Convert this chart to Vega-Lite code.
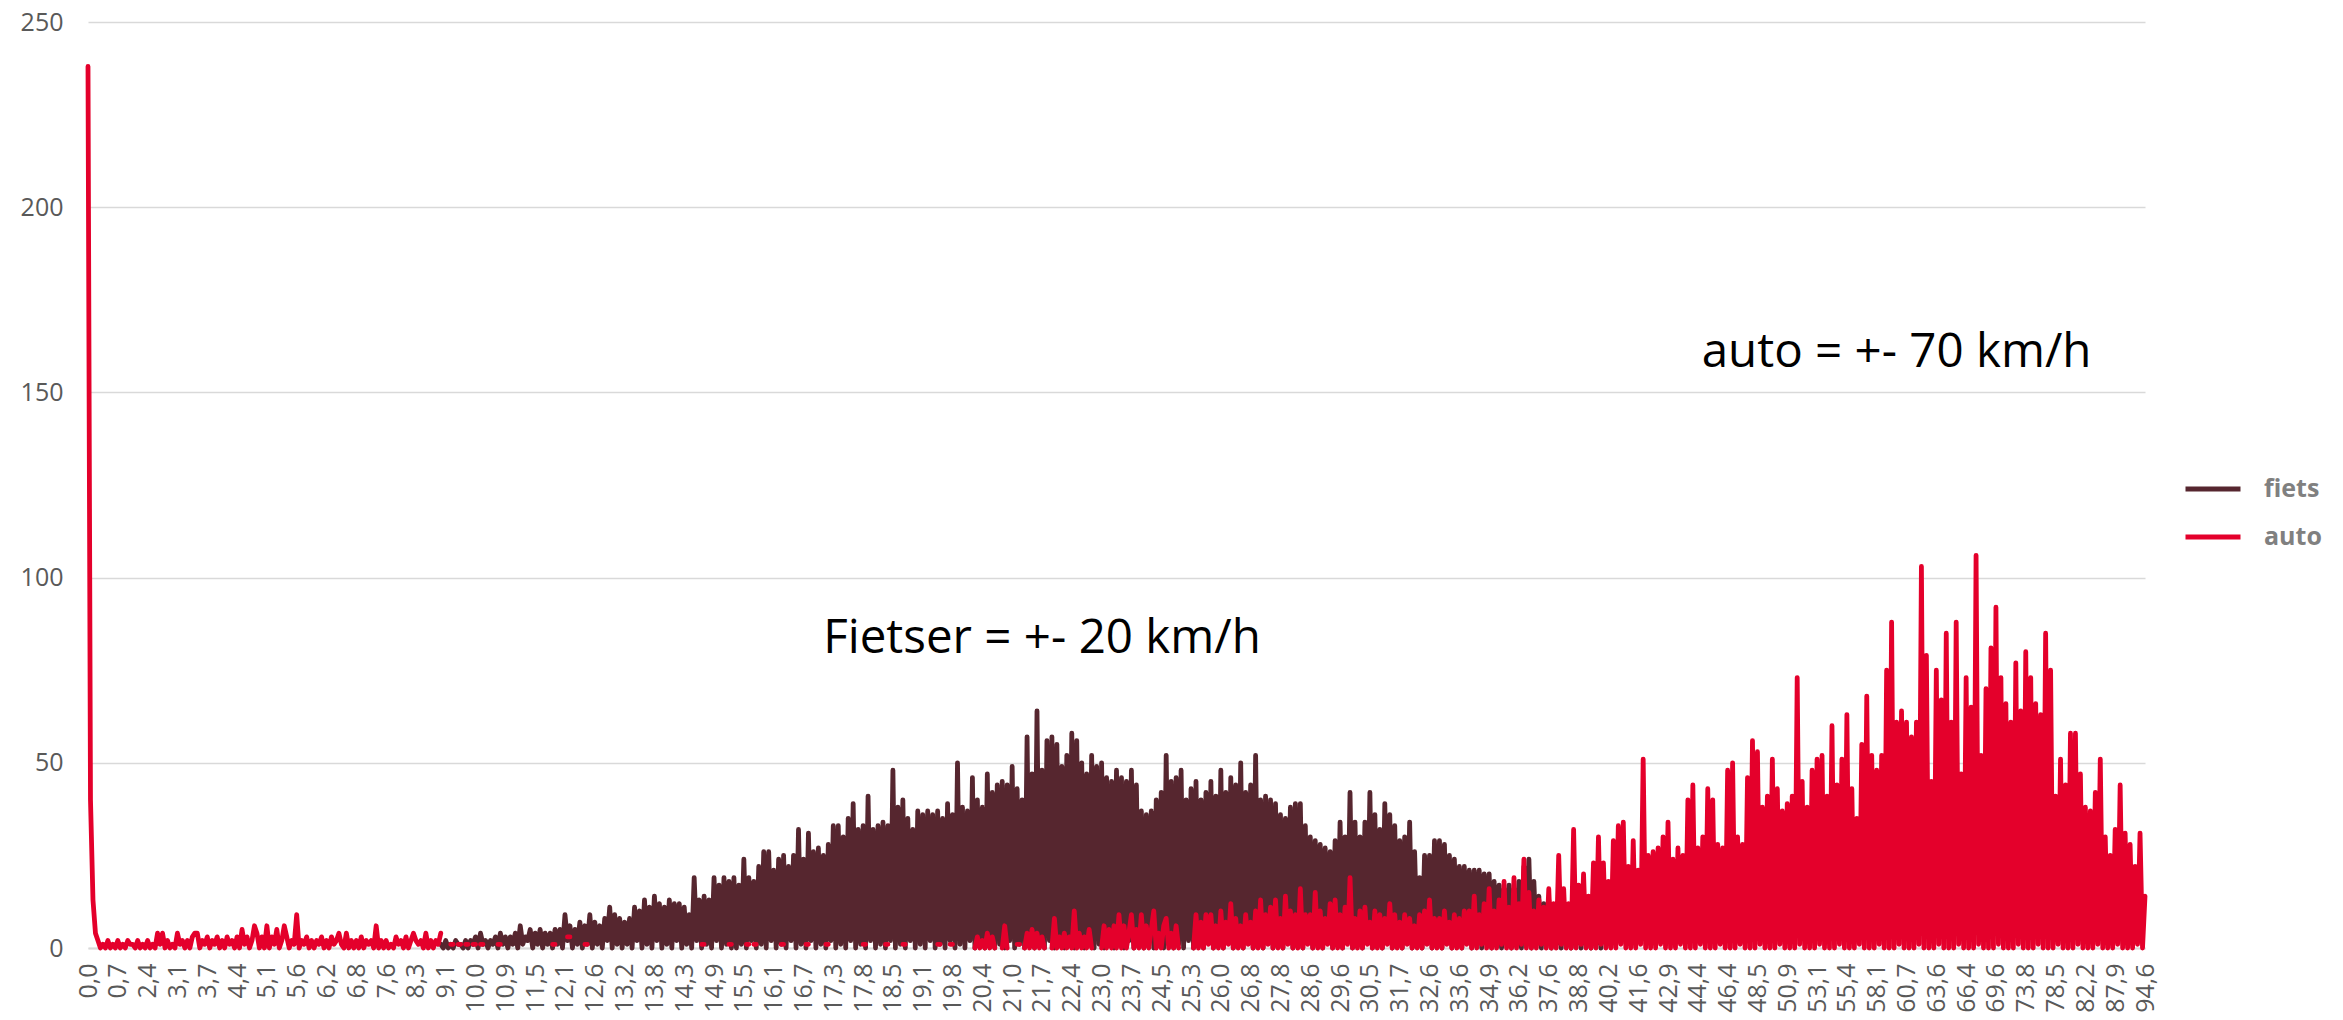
{
"$schema":"https://vega.github.io/schema/vega-lite/v6.json",
"width":2057,"height":926,
"autosize":{"type":"none"},
"padding":{"left":88,"top":22,"right":198,"bottom":72},
"background":"#ffffff",
"config":{"view":{"stroke":null},"font":"Open Sans"},
"encoding":{
"x":{"field":"n","type":"quantitative","scale":{"domain":[0,828],"nice":false,"zero":false},"title":null,
"axis":{"values":[0,12,24,36,48,60,72,84,96,108,120,132,144,156,168,180,192,204,216,228,240,252,264,276,288,300,312,324,336,348,360,372,384,396,408,420,432,444,456,468,480,492,504,516,528,540,552,564,576,588,600,612,624,636,648,660,672,684,696,708,720,732,744,756,768,780,792,804,816,828],
"labelExpr":"['0,0','0,7','2,4','3,1','3,7','4,4','5,1','5,6','6,2','6,8','7,6','8,3','9,1','10,0','10,9','11,5','12,1','12,6','13,2','13,8','14,3','14,9','15,5','16,1','16,7','17,3','17,8','18,5','19,1','19,8','20,4','21,0','21,7','22,4','23,0','23,7','24,5','25,3','26,0','26,8','27,8','28,6','29,6','30,5','31,7','32,6','33,6','34,9','36,2','37,6','38,8','40,2','41,6','42,9','44,4','46,4','48,5','50,9','53,1','55,4','58,1','60,7','63,6','66,4','69,6','73,8','78,5','82,2','87,9','94,6'][round(datum.value/12)]",
"labelAngle":-90,"labelOverlap":false,"labelBound":false,"labelFlush":false,"labelFontSize":25,"labelColor":"#595959","labelFont":"Open Sans","ticks":false,"tickSize":0,"labelPadding":15,"domain":true,"domainColor":"#d9d9d9","domainWidth":2,"grid":false}},
"y":{"field":"aantal","type":"quantitative","scale":{"domain":[0,250],"nice":false},"title":null,
"axis":{"values":[0,50,100,150,200,250],"grid":true,"gridColor":"#d9d9d9","gridWidth":1.3,"domain":false,"ticks":false,"tickSize":0,"labelPadding":25,"labelFontSize":25,"labelColor":"#595959","labelFont":"Open Sans"}}
},
"layer":[
{"data":{"values":[
{"n":0,"auto":238},{"n":1,"auto":40},{"n":2,"auto":13},{"n":3,"auto":4},{"n":4,"auto":2},{"n":5,"auto":0},{"n":6,"auto":1},{"n":7,"auto":0},{"n":8,"auto":2},{"n":9,"auto":0},{"n":10,"auto":1},{"n":11,"auto":0},
{"n":12,"auto":2},{"n":13,"auto":0},{"n":14,"auto":1},{"n":15,"auto":0},{"n":16,"auto":2},{"n":17,"auto":1},{"n":18,"auto":1},{"n":19,"auto":0},{"n":20,"auto":2},{"n":21,"auto":0},{"n":22,"auto":1},{"n":23,"auto":0},
{"n":24,"auto":2},{"n":25,"auto":0},{"n":26,"auto":1},{"n":27,"auto":0},{"n":28,"auto":4},{"n":29,"auto":1},{"n":30,"auto":4},{"n":31,"auto":0},{"n":32,"auto":2},{"n":33,"auto":0},{"n":34,"auto":1},{"n":35,"auto":0},
{"n":36,"auto":4},{"n":37,"auto":1},{"n":38,"auto":2},{"n":39,"auto":0},{"n":40,"auto":2},{"n":41,"auto":0},{"n":42,"auto":3},{"n":43,"auto":4},{"n":44,"auto":4},{"n":45,"auto":0},{"n":46,"auto":2},{"n":47,"auto":1},
{"n":48,"auto":3},{"n":49,"auto":0},{"n":50,"auto":2},{"n":51,"auto":1},{"n":52,"auto":3},{"n":53,"auto":0},{"n":54,"auto":2},{"n":55,"auto":0},{"n":56,"auto":3},{"n":57,"auto":1},{"n":58,"auto":2},{"n":59,"auto":0},
{"n":60,"auto":3},{"n":61,"auto":0},{"n":62,"auto":5},{"n":63,"auto":1},{"n":64,"auto":3},{"n":65,"auto":0},{"n":66,"auto":2},{"n":67,"auto":6},{"n":68,"auto":4},{"n":69,"auto":0},{"n":70,"auto":3},{"n":71,"auto":0},
{"n":72,"auto":6},{"n":73,"auto":0},{"n":74,"auto":3},{"n":75,"auto":1},{"n":76,"auto":5},{"n":77,"auto":0},{"n":78,"auto":2},{"n":79,"auto":6},{"n":80,"auto":3},{"n":81,"auto":0},{"n":82,"auto":2},{"n":83,"auto":1},
{"n":84,"auto":9},{"n":85,"auto":0},{"n":86,"auto":2},{"n":87,"auto":1},{"n":88,"auto":3},{"n":89,"auto":0},{"n":90,"auto":2},{"n":91,"auto":0},{"n":92,"auto":2},{"n":93,"auto":1},{"n":94,"auto":3},{"n":95,"auto":0},
{"n":96,"auto":2},{"n":97,"auto":0},{"n":98,"auto":3},{"n":99,"auto":1},{"n":100,"auto":2},{"n":101,"auto":4},{"n":102,"auto":1},{"n":103,"auto":0},{"n":104,"auto":4},{"n":105,"auto":0},{"n":106,"auto":2},{"n":107,"auto":0},
{"n":108,"auto":2},{"n":109,"auto":0},{"n":110,"auto":3},{"n":111,"auto":0},{"n":112,"auto":2},{"n":113,"auto":1},{"n":114,"auto":2},{"n":115,"auto":0},{"n":116,"auto":6},{"n":117,"auto":0},{"n":118,"auto":2},{"n":119,"auto":0},
{"n":120,"auto":2},{"n":121,"auto":0},{"n":122,"auto":1},{"n":123,"auto":0},{"n":124,"auto":3},{"n":125,"auto":1},{"n":126,"auto":2},{"n":127,"auto":0},{"n":128,"auto":3},{"n":129,"auto":0},{"n":130,"auto":2},{"n":131,"auto":4},
{"n":132,"auto":2},{"n":133,"auto":1},{"n":134,"auto":2},{"n":135,"auto":0},{"n":136,"auto":4},{"n":137,"auto":0},{"n":138,"auto":2},{"n":139,"auto":0},{"n":140,"auto":2},{"n":141,"auto":1},
{"n":142,"fiets":1,"auto":4},{"n":143,"fiets":0},{"n":144,"fiets":2},{"n":145,"fiets":0},{"n":146,"fiets":1,"auto":1},{"n":147,"fiets":0,"auto":1},{"n":148,"fiets":2},{"n":149,"fiets":1,"auto":1},{"n":150,"fiets":1,"auto":1},{"n":151,"fiets":0},{"n":152,"fiets":2,"auto":1},{"n":153,"fiets":0,"auto":1},{"n":154,"fiets":2},{"n":155,"fiets":1,"auto":1},
{"n":156,"fiets":3,"auto":1},{"n":157,"fiets":0},{"n":158,"fiets":4,"auto":1},{"n":159,"fiets":1,"auto":1},{"n":160,"fiets":2},{"n":161,"fiets":0},{"n":162,"fiets":2},{"n":163,"fiets":1},{"n":164,"fiets":3},{"n":165,"fiets":0,"auto":1},{"n":166,"fiets":4,"auto":1},{"n":167,"fiets":1},
{"n":168,"fiets":3},{"n":169,"fiets":0},{"n":170,"fiets":3},{"n":171,"fiets":1},{"n":172,"fiets":4},{"n":173,"fiets":0},{"n":174,"fiets":6},{"n":175,"fiets":1},{"n":176,"fiets":3},{"n":177,"fiets":2},{"n":178,"fiets":5},{"n":179,"fiets":0},
{"n":180,"fiets":4},{"n":181,"fiets":1},{"n":182,"fiets":5},{"n":183,"fiets":0},{"n":184,"fiets":4},{"n":185,"fiets":1},{"n":186,"fiets":4},{"n":187,"fiets":0,"auto":1},{"n":188,"fiets":5,"auto":1},{"n":189,"fiets":1},{"n":190,"fiets":5},{"n":191,"fiets":0},
{"n":192,"fiets":9},{"n":193,"fiets":2,"auto":3},{"n":194,"fiets":6,"auto":3},{"n":195,"fiets":0},{"n":196,"fiets":5},{"n":197,"fiets":1},{"n":198,"fiets":7},{"n":199,"fiets":0},{"n":200,"fiets":6,"auto":1},{"n":201,"fiets":1,"auto":1},{"n":202,"fiets":9},{"n":203,"fiets":0},
{"n":204,"fiets":7},{"n":205,"fiets":1},{"n":206,"fiets":6},{"n":207,"fiets":0},{"n":208,"fiets":8},{"n":209,"fiets":2},{"n":210,"fiets":11},{"n":211,"fiets":0},{"n":212,"fiets":9},{"n":213,"fiets":1},{"n":214,"fiets":8},{"n":215,"fiets":0},
{"n":216,"fiets":7},{"n":217,"fiets":1},{"n":218,"fiets":8},{"n":219,"fiets":0},{"n":220,"fiets":11},{"n":221,"fiets":2},{"n":222,"fiets":10},{"n":223,"fiets":0},{"n":224,"fiets":13},{"n":225,"fiets":1},{"n":226,"fiets":11},{"n":227,"fiets":0},
{"n":228,"fiets":14},{"n":229,"fiets":2},{"n":230,"fiets":12},{"n":231,"fiets":0},{"n":232,"fiets":11},{"n":233,"fiets":1},{"n":234,"fiets":13},{"n":235,"fiets":0},{"n":236,"fiets":12},{"n":237,"fiets":2},{"n":238,"fiets":12},{"n":239,"fiets":0},
{"n":240,"fiets":11},{"n":241,"fiets":1},{"n":242,"fiets":9},{"n":243,"fiets":0},{"n":244,"fiets":19},{"n":245,"fiets":2},{"n":246,"fiets":13},{"n":247,"fiets":0,"auto":1},{"n":248,"fiets":14,"auto":1},{"n":249,"fiets":1},{"n":250,"fiets":13},{"n":251,"fiets":0},
{"n":252,"fiets":19},{"n":253,"fiets":2},{"n":254,"fiets":17},{"n":255,"fiets":0},{"n":256,"fiets":19},{"n":257,"fiets":1},{"n":258,"fiets":18,"auto":1},{"n":259,"fiets":0,"auto":1},{"n":260,"fiets":19},{"n":261,"fiets":0},{"n":262,"fiets":17},{"n":263,"fiets":1},
{"n":264,"fiets":24},{"n":265,"fiets":0,"auto":1},{"n":266,"fiets":19,"auto":1},{"n":267,"fiets":2},{"n":268,"fiets":18,"auto":1},{"n":269,"fiets":0,"auto":1},{"n":270,"fiets":22},{"n":271,"fiets":1},{"n":272,"fiets":26},{"n":273,"fiets":0},{"n":274,"fiets":26},{"n":275,"fiets":2},
{"n":276,"fiets":21},{"n":277,"fiets":0},{"n":278,"fiets":24},{"n":279,"fiets":1,"auto":1},{"n":280,"fiets":25,"auto":1},{"n":281,"fiets":0},{"n":282,"fiets":22},{"n":283,"fiets":2},{"n":284,"fiets":25},{"n":285,"fiets":0},{"n":286,"fiets":32},{"n":287,"fiets":1},
{"n":288,"fiets":24},{"n":289,"fiets":0,"auto":1},{"n":290,"fiets":31,"auto":1},{"n":291,"fiets":2},{"n":292,"fiets":26},{"n":293,"fiets":0},{"n":294,"fiets":27},{"n":295,"fiets":1},{"n":296,"fiets":25},{"n":297,"fiets":0,"auto":1},{"n":298,"fiets":28,"auto":1},{"n":299,"fiets":2},
{"n":300,"fiets":33},{"n":301,"fiets":0},{"n":302,"fiets":33},{"n":303,"fiets":1},{"n":304,"fiets":30},{"n":305,"fiets":0},{"n":306,"fiets":35},{"n":307,"fiets":2},{"n":308,"fiets":39},{"n":309,"fiets":0},{"n":310,"fiets":32},{"n":311,"fiets":1},
{"n":312,"fiets":33,"auto":1},{"n":313,"fiets":0,"auto":1},{"n":314,"fiets":41},{"n":315,"fiets":2},{"n":316,"fiets":32},{"n":317,"fiets":0},{"n":318,"fiets":33},{"n":319,"fiets":1},{"n":320,"fiets":34},{"n":321,"fiets":0,"auto":1},{"n":322,"fiets":33,"auto":1},{"n":323,"fiets":2},
{"n":324,"fiets":48},{"n":325,"fiets":0},{"n":326,"fiets":38},{"n":327,"fiets":1},{"n":328,"fiets":40,"auto":1},{"n":329,"fiets":0,"auto":1},{"n":330,"fiets":35},{"n":331,"fiets":2},{"n":332,"fiets":32},{"n":333,"fiets":0},{"n":334,"fiets":37},{"n":335,"fiets":1},
{"n":336,"fiets":36},{"n":337,"fiets":0},{"n":338,"fiets":37},{"n":339,"fiets":2},{"n":340,"fiets":36},{"n":341,"fiets":0},{"n":342,"fiets":37,"auto":1},{"n":343,"fiets":1,"auto":1},{"n":344,"fiets":35},{"n":345,"fiets":0},{"n":346,"fiets":39},{"n":347,"fiets":2,"auto":1},
{"n":348,"fiets":36,"auto":1},{"n":349,"fiets":0},{"n":350,"fiets":50},{"n":351,"fiets":1},{"n":352,"fiets":38},{"n":353,"fiets":0},{"n":354,"fiets":37},{"n":355,"fiets":2},{"n":356,"fiets":46},{"n":357,"fiets":0,"auto":0},{"n":358,"fiets":40,"auto":3},{"n":359,"fiets":1,"auto":0},
{"n":360,"fiets":38,"auto":2},{"n":361,"fiets":0,"auto":0},{"n":362,"fiets":47,"auto":4},{"n":363,"fiets":2,"auto":0},{"n":364,"fiets":42,"auto":3},{"n":365,"fiets":0,"auto":0},{"n":366,"fiets":44},{"n":367,"fiets":1},{"n":368,"fiets":45,"auto":0},{"n":369,"fiets":0,"auto":6},{"n":370,"fiets":44,"auto":0},{"n":371,"fiets":2},
{"n":372,"fiets":49},{"n":373,"fiets":0},{"n":374,"fiets":43,"auto":1},{"n":375,"fiets":1,"auto":1},{"n":376,"fiets":40},{"n":377,"fiets":0,"auto":0},{"n":378,"fiets":57,"auto":4},{"n":379,"fiets":2,"auto":0},{"n":380,"fiets":47,"auto":5},{"n":381,"fiets":0,"auto":0},{"n":382,"fiets":64,"auto":4},{"n":383,"fiets":1,"auto":0},
{"n":384,"fiets":48,"auto":3},{"n":385,"fiets":0,"auto":0},{"n":386,"fiets":56},{"n":387,"fiets":2},{"n":388,"fiets":57,"auto":0},{"n":389,"fiets":0,"auto":8},{"n":390,"fiets":55,"auto":0},{"n":391,"fiets":1,"auto":3},{"n":392,"fiets":49,"auto":0},{"n":393,"fiets":0,"auto":4},{"n":394,"fiets":52,"auto":0},{"n":395,"fiets":2,"auto":3},
{"n":396,"fiets":58,"auto":0},{"n":397,"fiets":0,"auto":10},{"n":398,"fiets":56,"auto":0},{"n":399,"fiets":1,"auto":4},{"n":400,"fiets":50,"auto":0},{"n":401,"fiets":0,"auto":3},{"n":402,"fiets":47,"auto":0},{"n":403,"fiets":2,"auto":5},{"n":404,"fiets":52,"auto":0},{"n":405,"fiets":0},{"n":406,"fiets":49},{"n":407,"fiets":1},
{"n":408,"fiets":50,"auto":0},{"n":409,"fiets":0,"auto":6},{"n":410,"fiets":46,"auto":0},{"n":411,"fiets":2,"auto":5},{"n":412,"fiets":45,"auto":0},{"n":413,"fiets":0,"auto":6},{"n":414,"fiets":48,"auto":0},{"n":415,"fiets":1,"auto":9},{"n":416,"fiets":46,"auto":0},{"n":417,"fiets":0,"auto":6},{"n":418,"fiets":45,"auto":0},{"n":419,"fiets":2,"auto":4},
{"n":420,"fiets":48,"auto":9},{"n":421,"fiets":0,"auto":0},{"n":422,"fiets":44,"auto":5},{"n":423,"fiets":1,"auto":0},{"n":424,"fiets":37,"auto":9},{"n":425,"fiets":0,"auto":0},{"n":426,"fiets":36,"auto":6},{"n":427,"fiets":2,"auto":0},{"n":428,"fiets":37,"auto":5},{"n":429,"fiets":0,"auto":10},{"n":430,"fiets":40,"auto":0},{"n":431,"fiets":1,"auto":4},
{"n":432,"fiets":42,"auto":0},{"n":433,"fiets":0,"auto":6},{"n":434,"fiets":52,"auto":8},{"n":435,"fiets":2,"auto":0},{"n":436,"fiets":45,"auto":4},{"n":437,"fiets":0,"auto":0},{"n":438,"fiets":46,"auto":6},{"n":439,"fiets":1,"auto":0},{"n":440,"fiets":48},{"n":441,"fiets":0},{"n":442,"fiets":40},{"n":443,"fiets":2},
{"n":444,"fiets":43},{"n":445,"fiets":0,"auto":0},{"n":446,"fiets":45,"auto":9},{"n":447,"fiets":1,"auto":0},{"n":448,"fiets":40,"auto":7},{"n":449,"fiets":0,"auto":0},{"n":450,"fiets":42,"auto":9},{"n":451,"fiets":2,"auto":1},{"n":452,"fiets":45,"auto":9},{"n":453,"fiets":0,"auto":0},{"n":454,"fiets":41,"auto":6},{"n":455,"fiets":1,"auto":0},
{"n":456,"fiets":48,"auto":10},{"n":457,"fiets":0,"auto":0},{"n":458,"fiets":42,"auto":7},{"n":459,"fiets":2,"auto":1},{"n":460,"fiets":46,"auto":12},{"n":461,"fiets":0,"auto":0},{"n":462,"fiets":44,"auto":8},{"n":463,"fiets":1,"auto":0},{"n":464,"fiets":50,"auto":6},{"n":465,"fiets":0,"auto":0},{"n":466,"fiets":42,"auto":9},{"n":467,"fiets":2,"auto":1},
{"n":468,"fiets":44,"auto":7},{"n":469,"fiets":0,"auto":0},{"n":470,"fiets":52,"auto":10},{"n":471,"fiets":1,"auto":0},{"n":472,"fiets":40,"auto":13},{"n":473,"fiets":0,"auto":0},{"n":474,"fiets":41,"auto":9},{"n":475,"fiets":2,"auto":1},{"n":476,"fiets":40,"auto":11},{"n":477,"fiets":0,"auto":0},{"n":478,"fiets":39,"auto":13},{"n":479,"fiets":1,"auto":0},
{"n":480,"fiets":36,"auto":8},{"n":481,"fiets":0,"auto":0},{"n":482,"fiets":35,"auto":14},{"n":483,"fiets":2,"auto":1},{"n":484,"fiets":38,"auto":10},{"n":485,"fiets":0,"auto":0},{"n":486,"fiets":39,"auto":9},{"n":487,"fiets":1,"auto":0},{"n":488,"fiets":39,"auto":16},{"n":489,"fiets":0,"auto":0},{"n":490,"fiets":33,"auto":9},{"n":491,"fiets":2,"auto":1},
{"n":492,"fiets":30,"auto":9},{"n":493,"fiets":0,"auto":0},{"n":494,"fiets":29,"auto":15},{"n":495,"fiets":1,"auto":0},{"n":496,"fiets":28,"auto":10},{"n":497,"fiets":0,"auto":0},{"n":498,"fiets":27,"auto":8},{"n":499,"fiets":2,"auto":1},{"n":500,"fiets":26,"auto":12},{"n":501,"fiets":0,"auto":0},{"n":502,"fiets":29,"auto":13},{"n":503,"fiets":1,"auto":0},
{"n":504,"fiets":34,"auto":9},{"n":505,"fiets":0,"auto":0},{"n":506,"fiets":30,"auto":11},{"n":507,"fiets":2,"auto":1},{"n":508,"fiets":42,"auto":19},{"n":509,"fiets":0,"auto":0},{"n":510,"fiets":34,"auto":8},{"n":511,"fiets":1,"auto":0},{"n":512,"fiets":30,"auto":10},{"n":513,"fiets":0,"auto":0},{"n":514,"fiets":34,"auto":11},{"n":515,"fiets":2,"auto":1},
{"n":516,"fiets":42,"auto":7},{"n":517,"fiets":0,"auto":0},{"n":518,"fiets":36,"auto":10},{"n":519,"fiets":1,"auto":0},{"n":520,"fiets":32,"auto":9},{"n":521,"fiets":0,"auto":0},{"n":522,"fiets":39,"auto":8},{"n":523,"fiets":2,"auto":1},{"n":524,"fiets":36,"auto":12},{"n":525,"fiets":0,"auto":0},{"n":526,"fiets":33,"auto":9},{"n":527,"fiets":1,"auto":0},
{"n":528,"fiets":29,"auto":7},{"n":529,"fiets":0,"auto":0},{"n":530,"fiets":30,"auto":9},{"n":531,"fiets":2,"auto":1},{"n":532,"fiets":34,"auto":8},{"n":533,"fiets":0,"auto":0},{"n":534,"fiets":26,"auto":6},{"n":535,"fiets":1,"auto":0},{"n":536,"fiets":19,"auto":9},{"n":537,"fiets":0,"auto":0},{"n":538,"fiets":25,"auto":10},{"n":539,"fiets":2,"auto":1},
{"n":540,"fiets":25,"auto":13},{"n":541,"fiets":0,"auto":0},{"n":542,"fiets":29,"auto":8},{"n":543,"fiets":1,"auto":0},{"n":544,"fiets":29,"auto":8},{"n":545,"fiets":0,"auto":0},{"n":546,"fiets":28,"auto":10},{"n":547,"fiets":2,"auto":1},{"n":548,"fiets":25,"auto":7},{"n":549,"fiets":0,"auto":0},{"n":550,"fiets":24,"auto":9},{"n":551,"fiets":1,"auto":0},
{"n":552,"fiets":22,"auto":8},{"n":553,"fiets":0,"auto":0},{"n":554,"fiets":22,"auto":10},{"n":555,"fiets":2,"auto":1},{"n":556,"fiets":21,"auto":10},{"n":557,"fiets":0,"auto":0},{"n":558,"fiets":21,"auto":14},{"n":559,"fiets":1,"auto":0},{"n":560,"fiets":21,"auto":9},{"n":561,"fiets":0,"auto":1},{"n":562,"fiets":20,"auto":12},{"n":563,"fiets":2,"auto":0},
{"n":564,"fiets":20,"auto":16},{"n":565,"fiets":0,"auto":0},{"n":566,"fiets":18,"auto":10},{"n":567,"fiets":1,"auto":0},{"n":568,"fiets":17,"auto":13},{"n":569,"fiets":0,"auto":1},{"n":570,"fiets":16,"auto":18},{"n":571,"fiets":2,"auto":0},{"n":572,"fiets":17,"auto":11},{"n":573,"fiets":0,"auto":0},{"n":574,"fiets":16,"auto":19},{"n":575,"fiets":1,"auto":0},
{"n":576,"fiets":18,"auto":12},{"n":577,"fiets":0,"auto":1},{"n":578,"fiets":22,"auto":24},{"n":579,"fiets":2,"auto":0},{"n":580,"fiets":24,"auto":15},{"n":581,"fiets":0,"auto":0},{"n":582,"fiets":18,"auto":10},{"n":583,"fiets":1,"auto":0},{"n":584,"fiets":14,"auto":13},{"n":585,"fiets":0,"auto":1},{"n":586,"fiets":12,"auto":11},{"n":587,"fiets":2,"auto":0},
{"n":588,"fiets":13,"auto":16},{"n":589,"fiets":0,"auto":0},{"n":590,"fiets":11,"auto":12},{"n":591,"fiets":1,"auto":0},{"n":592,"fiets":12,"auto":25},{"n":593,"fiets":0,"auto":1},{"n":594,"fiets":10,"auto":16},{"n":595,"fiets":2,"auto":0},{"n":596,"fiets":11,"auto":12},{"n":597,"fiets":0,"auto":0},{"n":598,"fiets":9,"auto":32},{"n":599,"fiets":1,"auto":0},
{"n":600,"fiets":10,"auto":17},{"n":601,"fiets":0,"auto":1},{"n":602,"fiets":8,"auto":20},{"n":603,"fiets":1,"auto":0},{"n":604,"fiets":9,"auto":14},{"n":605,"fiets":0,"auto":0},{"n":606,"fiets":8,"auto":23},{"n":607,"fiets":1,"auto":0},{"n":608,"fiets":10,"auto":30},{"n":609,"fiets":0,"auto":1},{"n":610,"fiets":10,"auto":23},{"n":611,"auto":0},
{"n":612,"auto":18},{"n":613,"auto":0},{"n":614,"auto":29},{"n":615,"auto":0},{"n":616,"auto":33},{"n":617,"auto":1},{"n":618,"auto":34},{"n":619,"auto":0},{"n":620,"auto":22},{"n":621,"auto":0},{"n":622,"auto":29},{"n":623,"auto":0},
{"n":624,"auto":21},{"n":625,"auto":1},{"n":626,"auto":51},{"n":627,"auto":0},{"n":628,"auto":25},{"n":629,"auto":0},{"n":630,"auto":26},{"n":631,"auto":0},{"n":632,"auto":27},{"n":633,"auto":1},{"n":634,"auto":30},{"n":635,"auto":0},
{"n":636,"auto":34},{"n":637,"auto":0},{"n":638,"auto":24},{"n":639,"auto":0},{"n":640,"auto":27},{"n":641,"auto":1},{"n":642,"auto":25},{"n":643,"auto":0},{"n":644,"auto":40},{"n":645,"auto":0},{"n":646,"auto":44},{"n":647,"auto":0},
{"n":648,"auto":27},{"n":649,"auto":1},{"n":650,"auto":30},{"n":651,"auto":0},{"n":652,"auto":43},{"n":653,"auto":0},{"n":654,"auto":40},{"n":655,"auto":0},{"n":656,"auto":28},{"n":657,"auto":1},{"n":658,"auto":27},{"n":659,"auto":0},
{"n":660,"auto":48},{"n":661,"auto":0},{"n":662,"auto":50},{"n":663,"auto":0},{"n":664,"auto":30},{"n":665,"auto":1},{"n":666,"auto":28},{"n":667,"auto":0},{"n":668,"auto":46},{"n":669,"auto":0},{"n":670,"auto":56},{"n":671,"auto":0},
{"n":672,"auto":53},{"n":673,"auto":1},{"n":674,"auto":38},{"n":675,"auto":0},{"n":676,"auto":41},{"n":677,"auto":0},{"n":678,"auto":51},{"n":679,"auto":0},{"n":680,"auto":43},{"n":681,"auto":1},{"n":682,"auto":37},{"n":683,"auto":0},
{"n":684,"auto":39},{"n":685,"auto":0},{"n":686,"auto":41},{"n":687,"auto":0},{"n":688,"auto":73},{"n":689,"auto":1},{"n":690,"auto":45},{"n":691,"auto":0},{"n":692,"auto":38},{"n":693,"auto":0},{"n":694,"auto":48},{"n":695,"auto":0},
{"n":696,"auto":51},{"n":697,"auto":1},{"n":698,"auto":52},{"n":699,"auto":0},{"n":700,"auto":41},{"n":701,"auto":0},{"n":702,"auto":60},{"n":703,"auto":0},{"n":704,"auto":44},{"n":705,"auto":1},{"n":706,"auto":51},{"n":707,"auto":0},
{"n":708,"auto":63},{"n":709,"auto":0},{"n":710,"auto":43},{"n":711,"auto":0},{"n":712,"auto":35},{"n":713,"auto":1},{"n":714,"auto":55},{"n":715,"auto":0},{"n":716,"auto":68},{"n":717,"auto":0},{"n":718,"auto":52},{"n":719,"auto":0},
{"n":720,"auto":48},{"n":721,"auto":1},{"n":722,"auto":52},{"n":723,"auto":0},{"n":724,"auto":75},{"n":725,"auto":0},{"n":726,"auto":88},{"n":727,"auto":0},{"n":728,"auto":61},{"n":729,"auto":1},{"n":730,"auto":64},{"n":731,"auto":0},
{"n":732,"auto":61},{"n":733,"auto":0},{"n":734,"auto":57},{"n":735,"auto":0},{"n":736,"auto":61},{"n":737,"auto":1},{"n":738,"auto":103},{"n":739,"auto":0},{"n":740,"auto":79},{"n":741,"auto":0},{"n":742,"auto":45},{"n":743,"auto":0},
{"n":744,"auto":75},{"n":745,"auto":1},{"n":746,"auto":67},{"n":747,"auto":0},{"n":748,"auto":85},{"n":749,"auto":0},{"n":750,"auto":61},{"n":751,"auto":0},{"n":752,"auto":88},{"n":753,"auto":1},{"n":754,"auto":47},{"n":755,"auto":0},
{"n":756,"auto":73},{"n":757,"auto":0},{"n":758,"auto":65},{"n":759,"auto":0},{"n":760,"auto":106},{"n":761,"auto":1},{"n":762,"auto":52},{"n":763,"auto":0},{"n":764,"auto":70},{"n":765,"auto":0},{"n":766,"auto":81},{"n":767,"auto":0},
{"n":768,"auto":92},{"n":769,"auto":1},{"n":770,"auto":73},{"n":771,"auto":0},{"n":772,"auto":66},{"n":773,"auto":0},{"n":774,"auto":61},{"n":775,"auto":0},{"n":776,"auto":77},{"n":777,"auto":1},{"n":778,"auto":64},{"n":779,"auto":0},
{"n":780,"auto":80},{"n":781,"auto":0},{"n":782,"auto":73},{"n":783,"auto":0},{"n":784,"auto":66},{"n":785,"auto":1},{"n":786,"auto":63},{"n":787,"auto":0},{"n":788,"auto":85},{"n":789,"auto":0},{"n":790,"auto":75},{"n":791,"auto":0},
{"n":792,"auto":41},{"n":793,"auto":1},{"n":794,"auto":51},{"n":795,"auto":0},{"n":796,"auto":44},{"n":797,"auto":0},{"n":798,"auto":58},{"n":799,"auto":0},{"n":800,"auto":58},{"n":801,"auto":1},{"n":802,"auto":47},{"n":803,"auto":0},
{"n":804,"auto":38},{"n":805,"auto":0},{"n":806,"auto":37},{"n":807,"auto":0},{"n":808,"auto":42},{"n":809,"auto":1},{"n":810,"auto":51},{"n":811,"auto":0},{"n":812,"auto":30},{"n":813,"auto":0},{"n":814,"auto":25},{"n":815,"auto":0},
{"n":816,"auto":32},{"n":817,"auto":1},{"n":818,"auto":44},{"n":819,"auto":0},{"n":820,"auto":31},{"n":821,"auto":0},{"n":822,"auto":28},{"n":823,"auto":0},{"n":824,"auto":22},{"n":825,"auto":1},{"n":826,"auto":31},{"n":827,"auto":0},
{"n":828,"auto":14}
]},
"transform":[{"fold":["fiets","auto"],"as":["serie","aantal"]}],
"layer":[
{"transform":[{"filter":"datum.serie === 'fiets'"}],
"mark":{"type":"line","strokeWidth":4.8,"strokeCap":"round","strokeJoin":"round","invalid":"break-paths-show-domains"},
"encoding":{"color":{"field":"serie","type":"nominal","scale":{"domain":["fiets","auto"],"range":["#56262f","#e4002b"]},
"legend":{"title":null,"orient":"none","legendX":2095,"legendY":437,"padding":0,"symbolType":"stroke","symbolStrokeWidth":5,"symbolSize":3025,"labelFont":"Open Sans","labelFontSize":25,"labelFontWeight":"bold","labelColor":"#808080","labelOffset":21,"rowPadding":5}}}},
{"transform":[{"filter":"datum.serie === 'auto'"}],
"mark":{"type":"line","strokeWidth":4.8,"strokeCap":"round","strokeJoin":"round","invalid":"break-paths-show-domains"},
"encoding":{"color":{"field":"serie","type":"nominal"}}}
]},
{"data":{"values":[{"n":384,"aantal":79.6,"t":"Fietser = +- 20 km/h"},{"n":728,"aantal":156.9,"t":"auto = +- 70 km/h"}]},
"mark":{"type":"text","font":"Open Sans","fontSize":47.5,"color":"#000000","align":"center","baseline":"alphabetic"},
"encoding":{"text":{"field":"t","type":"nominal"}}}
]
}
